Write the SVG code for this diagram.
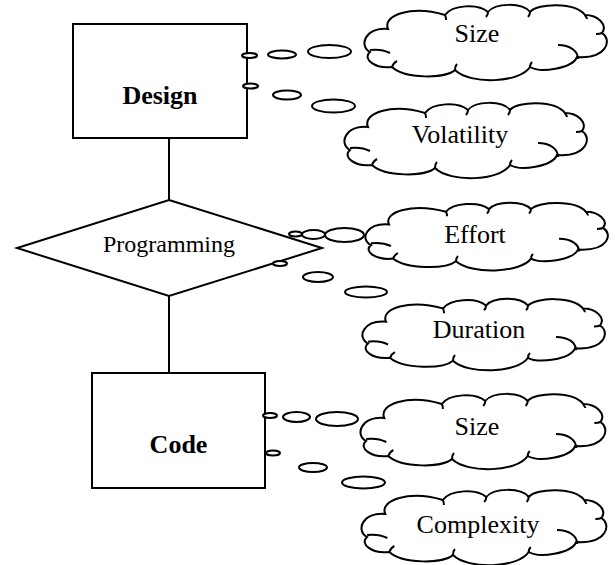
<svg xmlns="http://www.w3.org/2000/svg" xmlns:xlink="http://www.w3.org/1999/xlink" width="615" height="565" viewBox="0 0 615 565">
<style>
.shape{fill:#fff;stroke:#000;stroke-width:2}
.ln{fill:none;stroke:#000;stroke-width:2}
.bub{fill:#fff;stroke:#000;stroke-width:2}
.cl{fill:#fff;stroke:#000;stroke-width:2;vector-effect:non-scaling-stroke}
.tick{fill:none;stroke:#000;stroke-width:2;vector-effect:non-scaling-stroke}
.t{font-family:"Liberation Serif","Times New Roman",serif;font-size:26px;text-anchor:middle;fill:#000}
.b{font-weight:bold}
</style>
<defs>
<g id="cloud">
<path class="cl" d="M28,26 C22,12 52,2 85,12 C92,2 118,0 128,9 C135,0 162,-1 170,9 C178,0 215,-1 225,12 C238,12 248,22 242,30 C252,36 248,56 217,54 C212,66 180,70 170,64 C160,80 110,82 95,67 C85,76 45,76 32,64 C15,66 2,56 10,49 C-2,42 6,24 28,26 Z"/>
<path class="tick" d="M10,47 C18,46 26,48 30,50 M198,42 C210,42 218,48 218,56 M95,67 C95,64 96,62 97,61 M170,64 C170,62 171,60 172,59 M32,64 C33,61 35,59 37,58 M85,12 C86,14 86,16 86,17 M128,9 C128,11 127,13 126,14 M170,9 C170,11 169,13 168,14 M225,12 C226,14 227,15 227,16 M242,30 C240,31 238,31 236,31"/>
</g>
</defs>
<g id="connectors">
<line class="ln" x1="169" y1="139" x2="169" y2="200"/>
<line class="ln" x1="169" y1="296" x2="169" y2="373"/>
</g>
<g id="design">
<rect class="shape" x="73" y="24" width="174" height="114"/>
<text class="t b" x="160" y="104">Design</text>
</g>
<g id="programming">
<polygon class="shape" points="169,200 322,248 169,296 17,248"/>
<text class="t" style="font-size:24px" x="169" y="252">Programming</text>
</g>
<g id="code">
<rect class="shape" x="92" y="373" width="173" height="115"/>
<text class="t b" x="178.5" y="453">Code</text>
</g>
<g id="bubbles">
<ellipse class="bub" cx="249.5" cy="55.5" rx="7.5" ry="2.5"/>
<ellipse class="bub" cx="282" cy="54.5" rx="14" ry="4"/>
<ellipse class="bub" cx="329.5" cy="51.5" rx="21.5" ry="6.5"/>
<ellipse class="bub" cx="250.5" cy="86" rx="7.5" ry="2.5"/>
<ellipse class="bub" cx="287" cy="95" rx="14" ry="4.5"/>
<ellipse class="bub" cx="333.5" cy="106" rx="21.5" ry="6.5"/>
<ellipse class="bub" cx="295.5" cy="234" rx="6.5" ry="2.5"/>
<ellipse class="bub" cx="313.5" cy="234.5" rx="11.5" ry="4.5"/>
<ellipse class="bub" cx="344.5" cy="235" rx="19.5" ry="7"/>
<ellipse class="bub" cx="280" cy="263.5" rx="7" ry="2.5"/>
<ellipse class="bub" cx="318" cy="277" rx="15" ry="5"/>
<ellipse class="bub" cx="366" cy="292" rx="21" ry="5.5"/>
<ellipse class="bub" cx="270" cy="415.5" rx="7" ry="2.5"/>
<ellipse class="bub" cx="296.5" cy="417" rx="13.5" ry="5"/>
<ellipse class="bub" cx="337" cy="419" rx="21" ry="7"/>
<ellipse class="bub" cx="273" cy="453" rx="7" ry="2.5"/>
<ellipse class="bub" cx="313" cy="467.5" rx="14" ry="4.5"/>
<ellipse class="bub" cx="363.5" cy="482.5" rx="21.5" ry="6"/>
</g>
<g id="design-size">
<use xlink:href="#cloud" href="#cloud" transform="translate(360,3)"/>
<text class="t" x="477" y="42">Size</text>
</g>
<g id="design-volatility">
<use xlink:href="#cloud" href="#cloud" transform="translate(340,101)"/>
<text class="t" x="460" y="143">Volatility</text>
</g>
<g id="programming-effort">
<use xlink:href="#cloud" href="#cloud" transform="translate(361,201) scale(1,0.9)"/>
<text class="t" x="475" y="243">Effort</text>
</g>
<g id="programming-duration">
<use xlink:href="#cloud" href="#cloud" transform="translate(358,297) scale(1,0.95)"/>
<text class="t" x="479" y="338">Duration</text>
</g>
<g id="code-size">
<use xlink:href="#cloud" href="#cloud" transform="translate(356,392) scale(1.01,1)"/>
<text class="t" x="477" y="435">Size</text>
</g>
<g id="code-complexity">
<use xlink:href="#cloud" href="#cloud" transform="translate(357,488) scale(1.01,1)"/>
<text class="t" x="478" y="533">Complexity</text>
</g>
</svg>
